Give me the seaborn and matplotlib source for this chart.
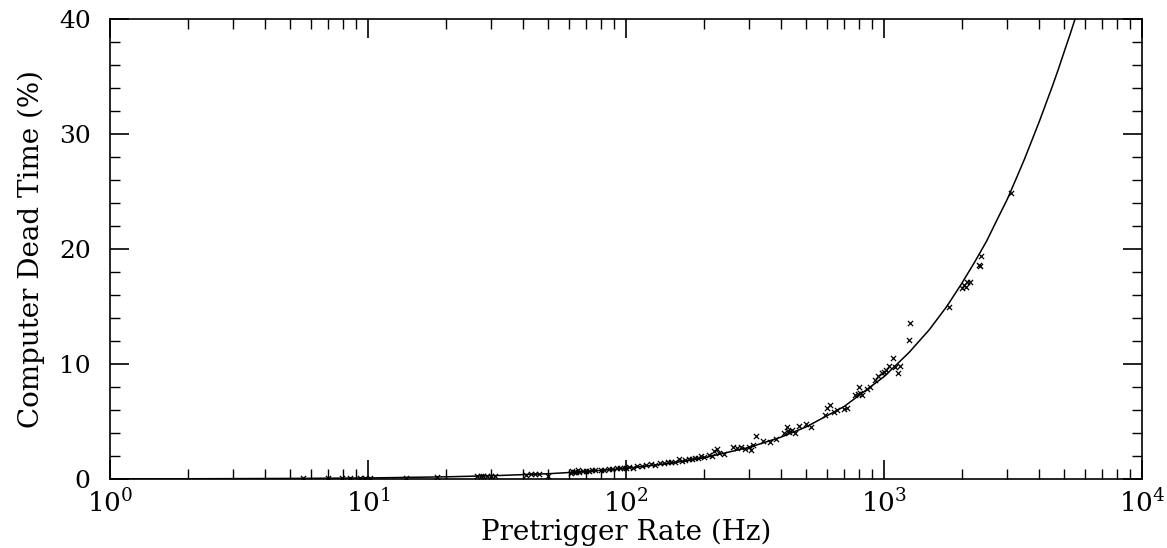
import matplotlib
matplotlib.use('Agg')
import matplotlib.pyplot as plt
import matplotlib.ticker as mticker
import numpy as np
import pandas as pd
import seaborn as sns

# 測定点 (Pretrigger rate [Hz], dead time [%])
rate_hz = [5.6, 7.0, 7.9, 8.5, 9.3, 9.7, 10.2, 14, 18.5,
           26.5, 27.5, 28, 29, 30, 31,
           41, 43, 44.5, 46, 50,
           61, 62, 63, 64, 65, 66, 68, 70, 72, 74, 76, 80, 82, 86, 88,
           92, 95, 98, 100, 103, 106, 110, 115, 120, 125, 130, 135, 140,
           145, 150, 155, 160, 165, 170, 175, 180, 185, 190, 195, 200,
           210, 215, 220, 225, 230, 240, 260, 270, 280, 290, 300, 305,
           310, 320, 340, 360, 380, 410, 420, 425, 430, 440, 450, 470,
           500, 520, 590, 600, 620, 640, 660, 700, 720, 770, 790, 800,
           810, 820, 860, 880, 920, 950, 980, 1000, 1020, 1050, 1080,
           1100, 1130, 1150, 1250, 1260, 1790, 2000, 2050, 2080, 2100,
           2150, 2330, 2350, 2380, 3100]
dead_pct = [0.05, 0.06, 0.07, 0.08, 0.09, 0.09, 0.09, 0.13, 0.17,
            0.25, 0.26, 0.24, 0.27, 0.28, 0.27,
            0.38, 0.42, 0.45, 0.40, 0.30,
            0.55, 0.70, 0.62, 0.65, 0.75, 0.60, 0.70, 0.68, 0.72, 0.75, 0.80, 0.78, 0.82, 0.90, 0.85,
            0.95, 0.98, 0.92, 1.00, 1.02, 0.98, 1.10, 1.15, 1.20, 1.30, 1.25, 1.40, 1.35,
            1.50, 1.45, 1.50, 1.70, 1.55, 1.65, 1.70, 1.75, 1.80, 1.85, 2.00, 1.90,
            2.10, 2.00, 2.40, 2.60, 2.30, 2.20, 2.80, 2.70, 2.75, 2.60, 2.80, 2.50,
            3.00, 3.70, 3.30, 3.20, 3.50, 4.00, 4.50, 4.20, 4.10, 4.30, 4.00, 4.60,
            4.80, 4.50, 5.60, 6.20, 6.40, 5.80, 6.00, 6.10, 6.20, 7.30, 7.40, 8.00,
            7.50, 7.30, 7.80, 8.00, 8.60, 9.00, 9.20, 9.30, 9.50, 9.80, 10.5,
            9.70, 9.20, 9.80, 12.1, 13.6, 15.0, 16.6, 16.9, 16.7, 17.1,
            17.1, 18.6, 18.5, 19.4, 24.9]

# フィット曲線
curve_rate = [1, 2, 5, 10, 20, 30, 50, 70, 100, 150, 200, 300, 400, 500,
              700, 1000, 1250, 1500, 1750, 2000, 2250, 2500, 2750, 3000,
              3250, 3500, 3750, 4000, 4250, 4500, 4750, 5000, 5250, 5500]
curve_pct = [0.01, 0.02, 0.05, 0.09, 0.19, 0.28, 0.46, 0.65, 0.93, 1.38,
             1.84, 2.75, 3.65, 4.54, 6.3, 8.9, 11.0, 13.0, 15.0, 17.0,
             18.9, 20.7, 22.6, 24.3, 26.1, 27.8, 29.5, 31.1, 32.7, 34.2,
             35.7, 37.2, 38.6, 40.0]

points = pd.DataFrame({'rate': rate_hz, 'dead': dead_pct})
curve = pd.DataFrame({'rate': curve_rate, 'dead': curve_pct})

sns.set_theme(style='ticks')
plt.rcParams['font.family'] = ['DejaVu Serif']
plt.rcParams['mathtext.fontset'] = 'dejavuserif'
plt.rcParams['text.color'] = 'black'
plt.rcParams['axes.labelcolor'] = 'black'

fig = plt.figure(figsize=(11.67, 5.48), dpi=100)
ax = fig.add_axes([0.0943, 0.1259, 0.8843, 0.8394])

sns.lineplot(data=curve, x='rate', y='dead', color='black', lw=1.1, ax=ax)
sns.scatterplot(data=points, x='rate', y='dead', marker='x', color='black',
                s=14, linewidth=0.9, ax=ax)

ax.set_xscale('log')
ax.set_xlim(1, 1e4)
ax.set_ylim(0, 40)
ax.xaxis.set_major_locator(mticker.LogLocator(base=10, numticks=10))
ax.xaxis.set_minor_locator(mticker.LogLocator(base=10, subs=np.arange(2, 10), numticks=10))
ax.xaxis.set_minor_formatter(mticker.NullFormatter())
ax.yaxis.set_major_locator(mticker.MultipleLocator(10))
ax.yaxis.set_minor_locator(mticker.MultipleLocator(2))

ax.tick_params(which='both', direction='in', top=True, right=True,
               color='black', labelcolor='black')
ax.tick_params(which='major', length=14, width=1.2)
ax.tick_params(which='minor', length=7, width=1.0)
ax.tick_params(axis='y', labelsize=18, pad=14)
ax.tick_params(axis='x', labelsize=19, pad=7)
for s in ax.spines.values():
    s.set_color('black')
    s.set_linewidth(1.2)

ax.set_xlabel('Pretrigger Rate (Hz)', fontsize=20, labelpad=1)
ax.set_ylabel('Computer Dead Time (%)', fontsize=20, labelpad=10)

fig.savefig('out.png', dpi=100)
